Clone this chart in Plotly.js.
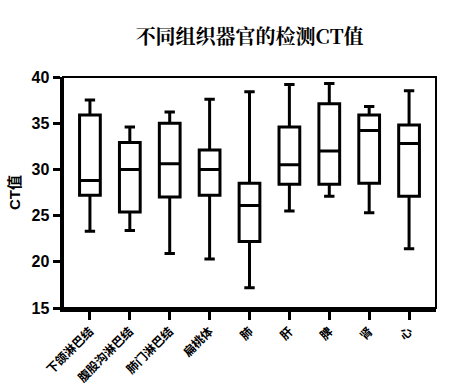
<!DOCTYPE html>
<html>
<head>
<meta charset="utf-8">
<script src="https://cdn.plot.ly/plotly-3.0.1.min.js"></script>
<style>html,body{margin:0;padding:0;background:#fff;}#chart{width:458px;height:390px;}</style>
</head>
<body>
<div id="chart"></div>
<script>
const categories = ["下颌淋巴结","腹股沟淋巴结","肺门淋巴结","扁桃体","肺","肝","脾","肾","心"];
const minVals    = [23.3, 23.4, 20.9, 20.3, 17.2, 25.5, 27.1, 25.3, 21.4];
const q1Vals     = [27.2, 25.4, 27.0, 27.2, 22.2, 28.4, 28.4, 28.5, 27.1];
const medianVals = [28.8, 30.0, 30.6, 30.0, 26.1, 30.5, 32.0, 34.2, 32.8];
const q3Vals     = [35.9, 32.9, 35.0, 32.1, 28.5, 34.6, 37.1, 35.9, 34.8];
const maxVals    = [37.5, 34.6, 36.2, 37.6, 38.4, 39.2, 39.3, 36.8, 38.5];
const yTicks = [15, 20, 25, 30, 35, 40];

const trace = {
  type: 'box',
  x: categories,
  q1: q1Vals,
  median: medianVals,
  q3: q3Vals,
  lowerfence: minVals,
  upperfence: maxVals,
  boxpoints: false,
  fillcolor: '#ffffff',
  line: {color: '#000000', width: 3},
  whiskerwidth: 0.5,
  width: 0.52,
  showlegend: false,
  hoverinfo: 'skip'
};

const layout = {
  width: 458, height: 390,
  margin: {l: 63, r: 22, t: 77, b: 82},
  paper_bgcolor: '#fff', plot_bgcolor: '#fff',
  title: {text: '不同组织器官的检测CT值', x: 0.545, xanchor: 'center', y: 0.905, yanchor: 'middle',
          font: {family: 'Noto Serif CJK SC, Noto Sans CJK SC, serif', size: 20, color: '#000', weight: 'bold'}},
  xaxis: {
    type: 'category', range: [-0.675, 8.675],
    showline: true, linecolor: '#000', linewidth: 3.5,
    ticks: 'outside', ticklen: 8, tickwidth: 3, tickcolor: '#000',
    tickangle: -45, showgrid: false, zeroline: false,
    tickfont: {family: 'Noto Sans CJK SC', size: 12, color: '#000', weight: 'bold'}
  },
  yaxis: {
    range: [15, 40], tickvals: yTicks, ticktext: yTicks.map(String),
    showline: true, linecolor: '#000', linewidth: 3.5,
    ticks: 'outside', ticklen: 7, tickwidth: 3, tickcolor: '#000',
    showgrid: false, zeroline: false,
    tickfont: {family: 'Liberation Sans, Arial', size: 16, color: '#000', weight: 'bold'},
    title: {text: 'CT值', standoff: 8, font: {family: 'Liberation Sans, Noto Sans CJK SC', size: 15, color: '#000', weight: 'bold'}}
  },
  shapes: [{type: 'rect', xref: 'paper', yref: 'paper', x0: 0, x1: 1, y0: 0, y1: 1,
            line: {color: '#000', width: 2}, fillcolor: 'rgba(0,0,0,0)', layer: 'above'}]
};

Plotly.newPlot('chart', [trace], layout, {displayModeBar: false, staticPlot: true});
</script>
</body>
</html>
